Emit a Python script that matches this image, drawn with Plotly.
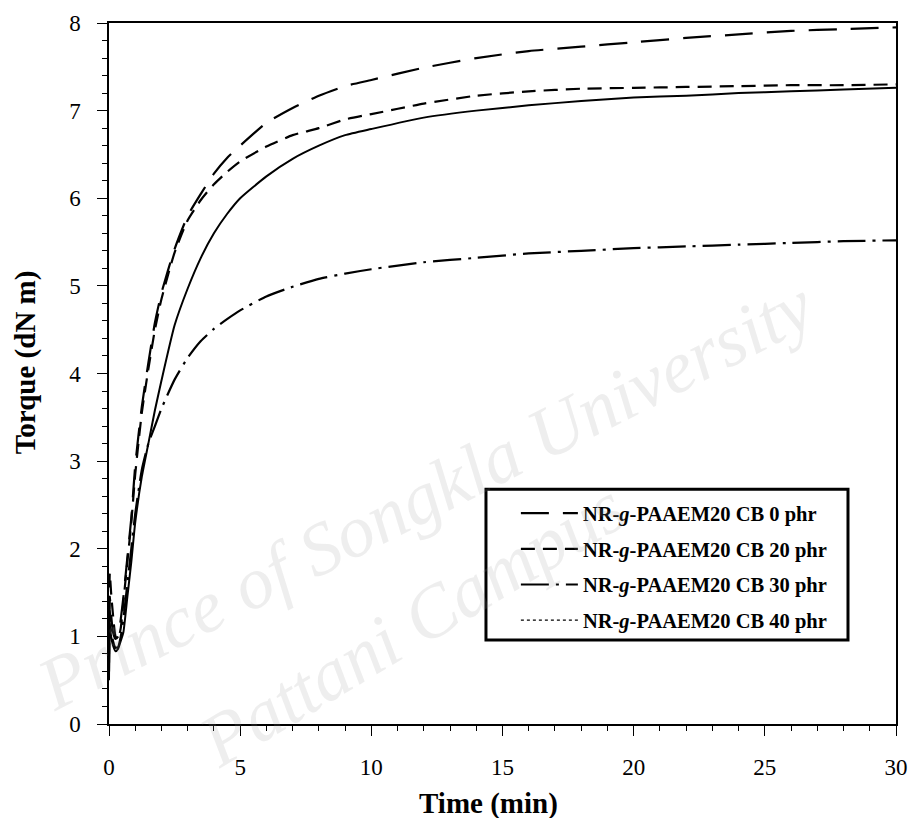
import plotly.graph_objects as go

# ---- data ----
time_min = [0, 0.03, 0.08, 0.15, 0.25, 0.35, 0.45, 0.55, 0.7, 0.85, 1.0, 1.25, 1.5, 1.75,
            2.0, 2.5, 3.0, 3.5, 4.0, 4.5, 5.0, 6.0, 7.0, 8.0, 9.0, 10, 12, 14, 16, 18,
            20, 22, 24, 26, 28, 30]

torque_cb0 = [0.7, 1.45, 1.25, 1.05, 0.97, 1.0, 1.2, 1.45, 1.9, 2.35, 2.95, 3.62, 4.12, 4.58,
              4.92, 5.42, 5.80, 6.05, 6.28, 6.46, 6.60, 6.86, 7.03, 7.17, 7.28, 7.35, 7.49,
              7.60, 7.68, 7.73, 7.78, 7.83, 7.87, 7.91, 7.93, 7.95]

torque_cb20 = [0.8, 1.72, 1.5, 1.25, 1.0, 0.97, 1.1, 1.4, 1.85, 2.3, 2.85, 3.55, 4.05, 4.5,
               4.85, 5.38, 5.75, 5.98, 6.16, 6.30, 6.42, 6.59, 6.72, 6.80, 6.90, 6.96, 7.08,
               7.17, 7.22, 7.25, 7.26, 7.27, 7.28, 7.29, 7.29, 7.30]

torque_cb30 = [0.6, 1.3, 1.1, 0.95, 0.87, 0.88, 1.0, 1.2, 1.6, 2.0, 2.4, 2.9, 3.2, 3.4,
               3.6, 3.93, 4.18, 4.37, 4.51, 4.62, 4.72, 4.88, 4.99, 5.08, 5.14, 5.19, 5.27,
               5.32, 5.37, 5.40, 5.43, 5.45, 5.47, 5.49, 5.51, 5.52]

torque_cb40 = [0.5, 1.15, 1.0, 0.9, 0.83, 0.86, 0.95, 1.05, 1.45, 1.85, 2.3, 2.82, 3.2, 3.58,
               3.92, 4.55, 4.97, 5.32, 5.60, 5.82, 6.0, 6.25, 6.45, 6.60, 6.72, 6.79, 6.92,
               7.0, 7.06, 7.11, 7.15, 7.17, 7.20, 7.22, 7.24, 7.26]

series_names = [
    "NR-<i>g</i>-PAAEM20 CB 0 phr",
    "NR-<i>g</i>-PAAEM20 CB 20 phr",
    "NR-<i>g</i>-PAAEM20 CB 30 phr",
    "NR-<i>g</i>-PAAEM20 CB 40 phr",
]

x_ticks = [0, 5, 10, 15, 20, 25, 30]
y_ticks = [0, 1, 2, 3, 4, 5, 6, 7, 8]

SERIF = "Liberation Serif, Times New Roman, serif"

fig = go.Figure()

def add(y, name, dash, width, show=True, group=None):
    fig.add_trace(go.Scatter(
        x=time_min, y=y, mode="lines", name=name,
        line=dict(color="black", width=width, dash=dash, shape="spline", smoothing=0.5),
        showlegend=show, legendgroup=group or name, hoverinfo="skip",
    ))

add(torque_cb0, series_names[0], "28px,14px", 2.2)
add(torque_cb20, series_names[1], "14px,8px", 2.2)
add(torque_cb30, series_names[2], "28px,7px,3px,7px", 2.2)
add(torque_cb40, series_names[3], "solid", 2.0, show=False, group="g40")
# legend entry for the 40 phr curve (fine dotted sample as in the reference legend)
fig.add_trace(go.Scatter(
    x=[None], y=[None], mode="lines", name=series_names[3],
    line=dict(color="black", width=1.2, dash="3px,3px"),
    legendgroup="g40", showlegend=True,
))

# watermark text
for txt, xx, yy, ang in [("Prince of Songkla University", 0.401, 0.327, -27),
                         ("Pattani Campus", 0.385, 0.142, -31)]:
    fig.add_annotation(
        text=txt, x=xx, y=yy, xref="paper", yref="paper", showarrow=False,
        xanchor="center", yanchor="middle", textangle=ang,
        font=dict(family=SERIF, size=74, color="rgba(150,150,150,0.16)", style="italic"),
    )

# axis titles
fig.add_annotation(
    text="<b>Time (min)</b>", x=0.482, y=-0.1127, xref="paper", yref="paper",
    showarrow=False, xanchor="center", yanchor="middle",
    font=dict(family=SERIF, size=29, color="black"),
)
fig.add_annotation(
    text="<b>Torque (dN m)</b>", x=-0.1067, y=0.516, xref="paper", yref="paper",
    showarrow=False, xanchor="center", yanchor="middle", textangle=-90,
    font=dict(family=SERIF, size=29, color="black"),
)

# legend frame
fig.add_shape(
    type="rect", xref="paper", yref="paper", x0=0.479, x1=0.939, y0=0.120, y1=0.335,
    line=dict(color="black", width=3), fillcolor="white", layer="above",
)

axis_common = dict(
    showgrid=False, zeroline=False, showline=True, linecolor="black", linewidth=1.5,
    mirror=True, ticks="outside", ticklen=10, tickwidth=1, tickcolor="black",
    tickfont=dict(family=SERIF, size=23, color="black"), automargin=False,
)

fig.update_xaxes(
    range=[0, 30], tickvals=x_ticks, ticklabelstandoff=12,
    minor=dict(dtick=1, ticks="outside", ticklen=5, tickcolor="black", showgrid=False),
    **axis_common,
)
fig.update_yaxes(
    range=[0, 8], tickvals=y_ticks, ticklabelstandoff=12,
    minor=dict(dtick=0.2, ticks="outside", ticklen=5, tickcolor="black", showgrid=False),
    **axis_common,
)

fig.update_layout(
    width=909, height=818,
    margin=dict(l=109, r=13, t=23, b=94, autoexpand=False),
    paper_bgcolor="white", plot_bgcolor="white",
    showlegend=True,
    legend=dict(
        x=0.517, y=0.329, xanchor="left", yanchor="top",
        bgcolor="rgba(0,0,0,0)", borderwidth=0,
        font=dict(family=SERIF, size=20.5, color="black", weight="bold"),
        tracegroupgap=6, itemwidth=57,
    ),
)

fig.write_html("out.html")
